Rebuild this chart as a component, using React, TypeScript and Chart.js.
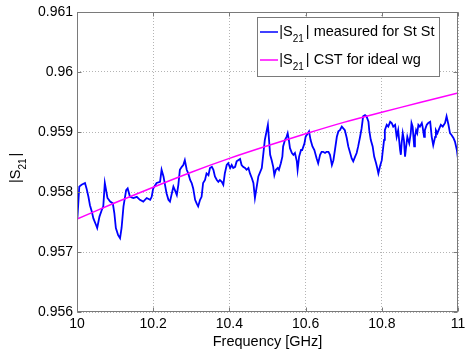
import React, { useEffect, useRef } from "react";
import { Chart, registerables } from "chart.js";

Chart.register(...registerables);

// ---------------- data ----------------
const measuredFreqGHz = [
  10.001, 10.006, 10.012, 10.021, 10.025, 10.03, 10.034, 10.039, 10.043, 10.05,
  10.053, 10.059, 10.065, 10.069, 10.073, 10.08, 10.087, 10.094, 10.098, 10.102,
  10.108, 10.113, 10.117, 10.122, 10.129, 10.133, 10.139, 10.148, 10.157, 10.165,
  10.174, 10.183, 10.192, 10.196, 10.2, 10.209, 10.218, 10.222, 10.227, 10.231,
  10.235, 10.24, 10.244, 10.249, 10.253, 10.257, 10.262, 10.266, 10.27, 10.275,
  10.279, 10.283, 10.288, 10.292, 10.297, 10.301, 10.305, 10.31, 10.314, 10.318,
  10.323, 10.327, 10.331, 10.336, 10.34, 10.345, 10.349, 10.354, 10.358, 10.362,
  10.367, 10.371, 10.375, 10.38, 10.384, 10.388, 10.393, 10.397, 10.402, 10.406,
  10.41, 10.415, 10.419, 10.423, 10.428, 10.432, 10.436, 10.441, 10.445, 10.45,
  10.454, 10.459, 10.463, 10.467, 10.476, 10.485, 10.493, 10.501, 10.507, 10.511,
  10.515, 10.518, 10.522, 10.527, 10.53, 10.535, 10.539, 10.541, 10.546, 10.55,
  10.553, 10.556, 10.559, 10.564, 10.568, 10.572, 10.577, 10.579, 10.583, 10.588,
  10.591, 10.597, 10.6, 10.606, 10.609, 10.613, 10.618, 10.623, 10.629, 10.633,
  10.638, 10.642, 10.646, 10.651, 10.655, 10.66, 10.664, 10.669, 10.673, 10.677,
  10.682, 10.686, 10.69, 10.695, 10.699, 10.703, 10.708, 10.712, 10.717, 10.721,
  10.725, 10.73, 10.734, 10.738, 10.743, 10.747, 10.751, 10.756, 10.76, 10.765,
  10.767, 10.771, 10.776, 10.78, 10.785, 10.788, 10.791, 10.795, 10.8, 10.802,
  10.806, 10.808, 10.813, 10.817, 10.822, 10.826, 10.83, 10.835, 10.839, 10.843,
  10.848, 10.85, 10.852, 10.855, 10.858, 10.861, 10.864, 10.867, 10.872, 10.876,
  10.878, 10.881, 10.885, 10.887, 10.89, 10.893, 10.896, 10.9, 10.905, 10.907,
  10.911, 10.913, 10.918, 10.922, 10.927, 10.931, 10.935, 10.94, 10.942, 10.946,
  10.951, 10.955, 10.96, 10.966, 10.97, 10.975, 10.979, 10.983, 10.988, 10.992,
  10.997, 10.998, 11.0,
];

const measuredS21 = [
  0.95756, 0.95809, 0.95812, 0.95815, 0.95806, 0.95792, 0.95778, 0.95767, 0.95756, 0.95745,
  0.9574, 0.95759, 0.9577, 0.95776, 0.95815, 0.9579, 0.95784, 0.95781, 0.95765, 0.9574,
  0.95728, 0.95723, 0.9574, 0.95776, 0.95803, 0.95806, 0.95792, 0.9579, 0.95792, 0.95787,
  0.95784, 0.9579, 0.95787, 0.95792, 0.95806, 0.95815, 0.95817, 0.95837, 0.95826, 0.95812,
  0.95798, 0.95787, 0.95784, 0.95798, 0.95809, 0.95803, 0.95795, 0.95812, 0.95837, 0.95842,
  0.95845, 0.95853, 0.95837, 0.95831, 0.9582, 0.95815, 0.95806, 0.95787, 0.95781, 0.95776,
  0.95787, 0.95792, 0.95815, 0.9582, 0.95831, 0.95828, 0.9584, 0.95842, 0.95837, 0.95826,
  0.9582, 0.95817, 0.9582, 0.95817, 0.95812, 0.95831, 0.95845, 0.95848, 0.9584, 0.95845,
  0.9584, 0.95842, 0.95851, 0.95853, 0.95855, 0.95845, 0.95842, 0.9584, 0.95837, 0.9584,
  0.95831, 0.95823, 0.95815, 0.9579, 0.95826, 0.9584, 0.95887, 0.95912, 0.95862, 0.95853,
  0.95842, 0.95828, 0.95837, 0.9584, 0.95837, 0.95848, 0.95859, 0.95876, 0.95887, 0.95892,
  0.95898, 0.95887, 0.95873, 0.95865, 0.95862, 0.95865, 0.95851, 0.95837, 0.95859, 0.9587,
  0.9587, 0.95881, 0.95892, 0.95898, 0.95901, 0.95887, 0.95876, 0.9587, 0.95856, 0.95848,
  0.95862, 0.95867, 0.95867, 0.95865, 0.95867, 0.95867, 0.95862, 0.95845, 0.95853, 0.9587,
  0.95892, 0.95901, 0.95903, 0.95909, 0.95906, 0.95903, 0.9589, 0.95876, 0.95865, 0.95856,
  0.95851, 0.95859, 0.95865, 0.95876, 0.95892, 0.95906, 0.95926, 0.95928, 0.95926, 0.95917,
  0.95903, 0.95887, 0.95876, 0.95859, 0.95848, 0.9584, 0.95831, 0.95842, 0.95853, 0.95865,
  0.95887, 0.95903, 0.95912, 0.95909, 0.95917, 0.95915, 0.95909, 0.95912, 0.95892, 0.95903,
  0.9587, 0.95862, 0.95881, 0.95898, 0.95887, 0.95859, 0.95876, 0.95892, 0.95881, 0.95898,
  0.95915, 0.95909, 0.95876, 0.95892, 0.95903, 0.95898, 0.95912, 0.95909, 0.95915, 0.95909,
  0.95892, 0.95903, 0.95912, 0.95915, 0.95917, 0.95892, 0.95878, 0.95892, 0.95903, 0.95898,
  0.95906, 0.95912, 0.95909, 0.95915, 0.95926, 0.95912, 0.95898, 0.95895, 0.9589, 0.95884,
  0.9587, 0.95865, 0.9587,
];

const cstFreqGHz = [10.0, 10.1, 10.2, 10.3, 10.4, 10.5, 10.6, 10.7, 10.8, 10.9, 11.0];
const cstS21 = [0.95755, 0.95782, 0.95808, 0.95833, 0.95856, 0.95877, 0.95897, 0.95916, 0.95933, 0.95949, 0.95965];

const xTickValues = [10, 10.2, 10.4, 10.6, 10.8, 11];
const yTickValues = [0.956, 0.957, 0.958, 0.959, 0.96, 0.961];

const xAxisTitle = "Frequency [GHz]";
const yAxisTitle = { pre: "|S", sub: "21", post: "|" };
const legendEntries = [
  { pre: "|S", sub: "21", post: "| measured for St St", color: "#0000ff" },
  { pre: "|S", sub: "21", post: "| CST for ideal wg", color: "#ff00ff" },
];

// ---------------- styling ----------------
const FONT = '"Liberation Sans", Arial, Helvetica, sans-serif';
const MAIN_FS = 14.5;
const SUB_FS = 10;
const BOX_COLOR = "#7a7a7a";

function drawSubText(ctx: CanvasRenderingContext2D, x: number, y: number, t: { pre: string; sub: string; post: string }) {
  ctx.textBaseline = "alphabetic";
  ctx.textAlign = "left";
  ctx.font = `${MAIN_FS}px ${FONT}`;
  ctx.fillText(t.pre, x, y);
  x += ctx.measureText(t.pre).width;
  ctx.font = `${SUB_FS}px ${FONT}`;
  ctx.fillText(t.sub, x, y + 6);
  x += ctx.measureText(t.sub).width + 2;
  ctx.font = `${MAIN_FS}px ${FONT}`;
  ctx.fillText(t.post, x, y);
}

const decorPlugin = {
  id: "matlabDecor",
  afterDatasetsDraw(chart: any) {
    const { ctx, chartArea, scales } = chart;
    const L = Math.floor(chartArea.left) + 0.5;
    const R = Math.floor(chartArea.right) - 0.5;
    const T = Math.floor(chartArea.top) + 0.5;
    const B = Math.floor(chartArea.bottom) - 0.5;
    ctx.save();
    ctx.strokeStyle = BOX_COLOR;
    ctx.lineWidth = 1;
    ctx.setLineDash([]);
    ctx.strokeRect(L, T, R - L, B - T);
    const tl = 4;
    ctx.beginPath();
    for (const v of xTickValues) {
      const px = Math.round(scales.x.getPixelForValue(v)) + 0.5;
      ctx.moveTo(px, B);
      ctx.lineTo(px, B - tl);
      ctx.moveTo(px, T);
      ctx.lineTo(px, T + tl);
    }
    for (const v of yTickValues) {
      const py = Math.round(scales.y.getPixelForValue(v)) + 0.5;
      ctx.moveTo(L, py);
      ctx.lineTo(L + tl, py);
      ctx.moveTo(R, py);
      ctx.lineTo(R - tl, py);
    }
    ctx.stroke();
    ctx.restore();
  },
  afterDraw(chart: any) {
    const { ctx, chartArea } = chart;
    ctx.save();
    // legend
    const lx = 257.5, ly = 17.5, lw = 182, lh = 59;
    ctx.fillStyle = "#ffffff";
    ctx.fillRect(lx, ly, lw, lh);
    ctx.strokeStyle = BOX_COLOR;
    ctx.lineWidth = 1;
    ctx.strokeRect(lx, ly, lw, lh);
    const rows = [32, 60];
    legendEntries.forEach((e, i) => {
      const y = rows[i];
      ctx.strokeStyle = e.color;
      ctx.lineWidth = 1.5;
      ctx.beginPath();
      ctx.moveTo(260, y);
      ctx.lineTo(278, y);
      ctx.stroke();
      ctx.fillStyle = "#000000";
      drawSubText(ctx, 279.3, y + 4, e);
    });
    // x title
    ctx.fillStyle = "#000000";
    ctx.font = `${MAIN_FS}px ${FONT}`;
    ctx.textAlign = "center";
    ctx.textBaseline = "alphabetic";
    ctx.fillText(xAxisTitle, (chartArea.left + chartArea.right) / 2, 346);
    // y title (rotated)
    ctx.translate(20, 183);
    ctx.rotate(-Math.PI / 2);
    drawSubText(ctx, 0, 0, yAxisTitle);
    ctx.restore();
  },
};

export default function App() {
  const ref = useRef<HTMLCanvasElement>(null);

  useEffect(() => {
    if (!ref.current) return;
    const chart = new Chart(ref.current, {
      type: "line",
      data: {
        datasets: [
          {
            label: "CST",
            data: cstFreqGHz.map((f, i) => ({ x: f, y: cstS21[i] })),
            borderColor: "#ff00ff",
            borderWidth: 1.5,
            pointRadius: 0,
            tension: 0.3,
            fill: false,
            order: 0,
          },
          {
            label: "measured",
            data: measuredFreqGHz.map((f, i) => ({ x: f, y: measuredS21[i] })),
            borderColor: "#0000ff",
            borderWidth: 1.8,
            pointRadius: 0,
            tension: 0,
            fill: false,
            order: 1,
          },
        ],
      },
      options: {
        animation: false,
        responsive: false,
        devicePixelRatio: 1,
        layout: { padding: { top: 12, right: 7, left: 0, bottom: 0 } },
        plugins: { legend: { display: false }, tooltip: { enabled: false }, title: { display: false } },
        scales: {
          x: {
            type: "linear",
            min: 10,
            max: 11,
            afterBuildTicks: (s: any) => {
              s.ticks = xTickValues.map((v) => ({ value: v }));
            },
            afterFit: (s: any) => {
              s.height = 38;
              s.paddingLeft = 0;
              s.paddingRight = 0;
            },
            ticks: {
              autoSkip: false,
              maxRotation: 0,
              padding: 4,
              color: "#000000",
              font: { family: FONT, size: 14 },
              callback: (v: any) => String(parseFloat(Number(v).toFixed(1))),
            },
            grid: { color: "#b4b4b4", lineWidth: 1, drawTicks: false },
            border: { display: false, dash: [1, 2] },
          },
          y: {
            type: "linear",
            min: 0.956,
            max: 0.961,
            afterBuildTicks: (s: any) => {
              s.ticks = yTickValues.map((v) => ({ value: v }));
            },
            afterFit: (s: any) => {
              s.width = 77;
              s.paddingTop = 0;
              s.paddingBottom = 0;
            },
            ticks: {
              autoSkip: false,
              padding: 4,
              color: "#000000",
              font: { family: FONT, size: 14 },
              callback: (v: any) => String(parseFloat(Number(v).toFixed(3))),
            },
            grid: { color: "#b4b4b4", lineWidth: 1, drawTicks: false },
            border: { display: false, dash: [1, 2] },
          },
        },
      },
      plugins: [decorPlugin],
    } as any);
    return () => chart.destroy();
  }, []);

  return (
    <div style={{ position: "absolute", left: 0, top: 0, width: 465, height: 350, background: "#ffffff" }}>
      <canvas ref={ref} width={465} height={350} style={{ display: "block", width: 465, height: 350 }} />
    </div>
  );
}
